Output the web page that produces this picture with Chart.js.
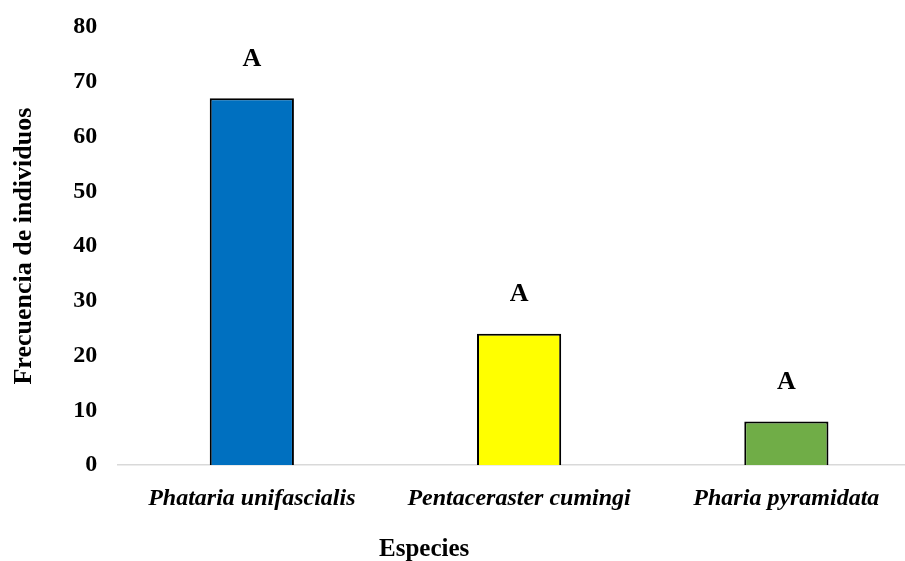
<!DOCTYPE html>
<html>
<head>
<meta charset="utf-8">
<script src="https://cdn.jsdelivr.net/npm/chart.js@4.4.1/dist/chart.umd.min.js"></script>
<style>
  html, body { margin: 0; padding: 0; background: #fff; overflow: hidden; }
  #wrap { width: 920px; height: 561px; }
</style>
</head>
<body>
<div id="wrap"><canvas id="speciesChart"></canvas></div>
<script>
/* ============================================================
   DATA
   ============================================================ */
const species = ["Phataria unifascialis", "Pentaceraster cumingi", "Pharia pyramidata"];
const counts = [67, 24, 8];
const groupLetters = ["A", "A", "A"];
const barColors = ["#0070c0", "#ffff00", "#70ad47"];
const yTicks = [0, 10, 20, 30, 40, 50, 60, 70, 80];

const serif = "'Liberation Serif', 'Times New Roman', serif";

/* ============================================================
   PLUGINS - letters over bars + x title
   ============================================================ */
const letterPlugin = {
    id: "letters",
    afterDatasetsDraw(chart) {
        const ctx = chart.ctx;
        const meta = chart.getDatasetMeta(0);
        ctx.save();
        ctx.fillStyle = "#000";
        ctx.font = "bold 26px " + serif;
        ctx.textAlign = "center";
        ctx.textBaseline = "middle";
        meta.data.forEach((bar, i) => {
            ctx.fillText(groupLetters[i], bar.x, bar.y - 39);
        });
        ctx.restore();
    }
};

const xTitlePlugin = {
    id: "xTitle",
    afterDraw(chart) {
        const ctx = chart.ctx;
        ctx.save();
        ctx.fillStyle = "#000";
        ctx.font = "bold 25px " + serif;
        ctx.textAlign = "center";
        ctx.textBaseline = "middle";
        ctx.fillText("Especies", chart.chartArea.left + 306, chart.chartArea.bottom + 84);
        ctx.restore();
    }
};

/* ============================================================
   DRAW CHART
   ============================================================ */
new Chart(document.getElementById("speciesChart"), {
    type: "bar",
    data: {
        labels: species,
        datasets: [{
            data: counts,
            backgroundColor: barColors,
            borderColor: "#000",
            borderWidth: 2,
            borderSkipped: "bottom",
            categoryPercentage: 1,
            barPercentage: 0.315
        }]
    },
    options: {
        responsive: true,
        maintainAspectRatio: false,
        animation: false,
        layout: { padding: { top: 27, bottom: 29, left: 0, right: 0 } },
        plugins: {
            legend: { display: false },
            tooltip: { enabled: false }
        },
        scales: {
            x: {
                grid: { display: false, drawTicks: false },
                border: { color: "#d9d9d9", width: 1.5 },
                ticks: {
                    color: "#000",
                    padding: 19,
                    font: { family: serif, size: 24, weight: "bold", style: "italic" }
                }
            },
            y: {
                min: 0,
                max: 80,
                afterBuildTicks: axis => { axis.ticks = yTicks.map(v => ({ value: v })); },
                afterFit: axis => { axis.paddingTop = 0; },   // let layout padding decide the top
                grid: { display: false, drawTicks: false },
                border: { display: false },
                ticks: {
                    color: "#000",
                    padding: 21,
                    font: { family: serif, size: 24, weight: "bold" }
                },
                title: {
                    display: true,
                    text: "Frecuencia de individuos",
                    color: "#000",
                    font: { family: serif, size: 26, weight: "bold" },
                    padding: { top: 9, bottom: 12 }
                }
            }
        }
    },
    plugins: [letterPlugin, xTitlePlugin]
});
</script>
</body>
</html>
